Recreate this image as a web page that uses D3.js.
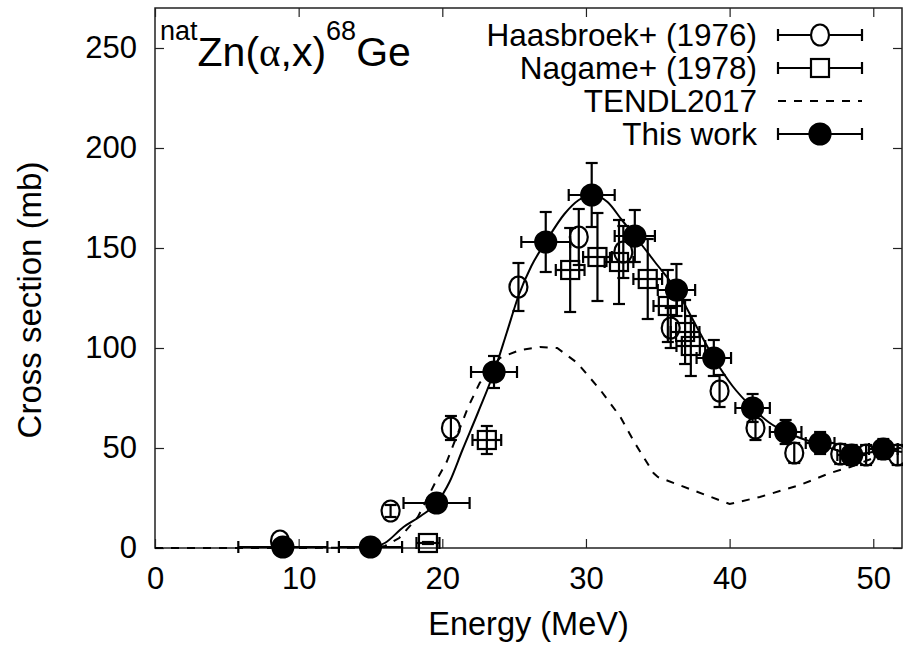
<!DOCTYPE html>
<html><head><meta charset="utf-8">
<script src="https://cdn.jsdelivr.net/npm/d3@7"></script>
<style>body{margin:0;background:#fff}svg{display:block}</style>
</head><body><svg id="c" width="903" height="647"></svg>
<script>
// ---- data ----
const xTicks = [0, 10, 20, 30, 40, 50];
const yTicks = [0, 50, 100, 150, 200, 250];
const legendLabels = ["Haasbroek+ (1976)", "Nagame+ (1978)", "TENDL2017", "This work"];

// Haasbroek+ (1976)
const haasE  = [8.7, 16.4, 20.6, 25.3, 29.5, 32.6, 35.9, 39.3, 41.8, 44.5, 47.7, 49.5, 51.7];
const haasS  = [3.5, 18.5, 60, 130.5, 155.5, 148, 110, 78.5, 60, 47.5, 47, 46.5, 46.5];
const haasDS = [0, 3, 6, 12, 14, 13, 10, 8, 6, 5, 5, 5, 5];

// Nagame+ (1978)
const nagE  = [19.0, 23.1, 28.9, 30.8, 32.3, 34.3, 35.7, 36.9, 37.3];
const nagS  = [2.5, 54, 139, 145.5, 143, 134.5, 121, 108, 101];
const nagDE = [0.8, 1.0, 1.0, 1.0, 1.0, 1.0, 1.0, 1.0, 1.0];
const nagDS = [0.5, 7, 21, 22, 21, 20, 18, 16, 15];

// TENDL2017
const tendlE = [0, 10, 15, 16, 17, 18.3, 19.6, 20.3, 21.8, 22.6, 24.0, 25.4, 26.8, 28.0, 29.4, 31.0, 32.4, 33.4, 34.7, 35.0, 40.0, 42.1, 44.9, 47.0, 48.4, 52];
const tendlS = [0, 0, 0.2, 1, 5, 15.5, 34, 43, 70.5, 82.5, 95, 99, 100.5, 100, 92.5, 79, 65.5, 52.5, 37.5, 35.5, 22, 25.5, 31.5, 37.5, 40.5, 50.5];

// This work
const workE  = [8.9, 15.0, 19.6, 23.6, 27.2, 30.4, 33.4, 36.3, 38.9, 41.6, 43.9, 46.3, 48.5, 50.7];
const workS  = [0.5, 0.5, 22.5, 88, 153, 176.5, 156, 129, 95, 70, 58, 52.5, 46.5, 49.5];
const workDE = [3.1, 2.2, 2.3, 1.6, 1.7, 1.6, 1.4, 1.3, 1.2, 1.2, 1.1, 1.0, 1.0, 1.0];
const workDS = [0, 0, 2, 8, 15, 16, 13, 13, 9, 7, 6, 5.5, 5, 5];

// This work fit curve
const fitE = [15, 16, 17.3, 18.5, 19.6, 20.5, 21.4, 22.5, 23.6, 24.5, 25.3, 26.2, 27.2, 28.5, 29.5, 30.4, 31.5, 32.5, 33.4, 34.8, 36.3, 37.6, 38.9, 40.2, 41.6, 42.7, 43.9, 45.1, 46.3, 47.4, 48.5, 49.6, 50.7, 52];
const fitS = [0, 2.5, 10.5, 16, 22.5, 33, 49, 68, 88, 108, 126, 141, 153, 167, 174, 176.5, 173, 164, 156, 143, 129, 112, 95, 81, 70, 63, 58, 54.5, 52, 49, 47, 47.5, 49, 48];

// ---- drawing ----
const svg = d3.select("#c");
const FONT = "'Liberation Sans', Arial, sans-serif";
const L = 155, R = 902, T = 8, B = 548;
const x = d3.scaleLinear().domain([0, 52]).range([L, R]);
const y = d3.scaleLinear().domain([0, 270]).range([B, T]);

function styleAxis(g) {
  g.select(".domain").remove();
  g.selectAll(".tick line").attr("stroke", "#222").attr("stroke-width", 1.2);
  g.selectAll("text").attr("font-family", FONT).attr("font-size", 31).attr("fill", "#000");
}
svg.append("g").attr("transform", `translate(0,${B})`)
  .call(d3.axisBottom(x).tickValues(xTicks).tickSize(-9).tickPadding(19).tickFormat(d3.format("d")))
  .call(styleAxis);
svg.append("g").attr("transform", `translate(0,${T})`)
  .call(d3.axisTop(x).tickValues(xTicks).tickSize(-9).tickFormat(""))
  .call(styleAxis);
svg.append("g").attr("transform", `translate(${L},0)`)
  .call(d3.axisLeft(y).tickValues(yTicks).tickSize(-9).tickPadding(18).tickFormat(d3.format("d")))
  .call(styleAxis);
svg.append("g").attr("transform", `translate(${R},0)`)
  .call(d3.axisRight(y).tickValues(yTicks).tickSize(-9).tickFormat(""))
  .call(styleAxis);

svg.append("rect").attr("x", L).attr("y", T).attr("width", R - L).attr("height", B - T)
  .attr("fill", "none").attr("stroke", "#222").attr("stroke-width", 1.5);

// axis titles
svg.append("text").attr("x", (L + R) / 2).attr("y", 635).attr("text-anchor", "middle")
  .attr("font-family", FONT).attr("font-size", 32.5).text("Energy (MeV)");
svg.append("text").attr("transform", `translate(41,300) rotate(-90)`).attr("text-anchor", "middle")
  .attr("font-family", FONT).attr("font-size", 33).text("Cross section (mb)");

// reaction title
const tt = svg.append("text").attr("x", 160).attr("y", 66).attr("font-family", FONT).attr("font-size", 41);
tt.append("tspan").attr("font-size", 27).attr("dy", -26).text("nat");
tt.append("tspan").attr("dy", 26).text("Zn(");
tt.append("tspan").attr("font-family", "'Liberation Serif', 'DejaVu Serif', serif").attr("font-size", 41).text("α");
tt.append("tspan").text(",x)");
tt.append("tspan").attr("font-size", 27).attr("dy", -26).text("68");
tt.append("tspan").attr("dy", 26).text("Ge");

// lines
const lineGen = d3.line().x(d => x(d[0])).y(d => y(d[1]));
svg.append("path").datum(d3.zip(tendlE, tendlS)).attr("d", lineGen)
  .attr("fill", "none").attr("stroke", "#000").attr("stroke-width", 2).attr("stroke-dasharray", "8,8");
svg.append("path").datum(d3.zip(fitE, fitS)).attr("d", lineGen.curve(d3.curveMonotoneX))
  .attr("fill", "none").attr("stroke", "#000").attr("stroke-width", 2);

const CAP = 6;
function errBars(g, E, S, DE, DS) {
  E.forEach((e, i) => {
    const cx = x(e), cy = y(S[i]);
    const de = DE ? DE[i] : 0, ds = DS ? DS[i] : 0;
    if (de > 0) {
      const x0 = x(e - de), x1 = x(e + de);
      g.append("line").attr("x1", x0).attr("x2", x1).attr("y1", cy).attr("y2", cy);
      g.append("line").attr("x1", x0).attr("x2", x0).attr("y1", cy - CAP).attr("y2", cy + CAP);
      g.append("line").attr("x1", x1).attr("x2", x1).attr("y1", cy - CAP).attr("y2", cy + CAP);
    }
    if (ds > 0) {
      const y0 = y(S[i] - ds), y1 = y(S[i] + ds);
      g.append("line").attr("x1", cx).attr("x2", cx).attr("y1", y0).attr("y2", y1);
      g.append("line").attr("x1", cx - CAP).attr("x2", cx + CAP).attr("y1", y0).attr("y2", y0);
      g.append("line").attr("x1", cx - CAP).attr("x2", cx + CAP).attr("y1", y1).attr("y2", y1);
    }
  });
}
const gH = svg.append("g").attr("stroke", "#000").attr("stroke-width", 2.2).attr("fill", "none");
errBars(gH, haasE, haasS, null, haasDS);
haasE.forEach((e, i) => gH.append("ellipse").attr("cx", x(e)).attr("cy", y(haasS[i])).attr("rx", 9).attr("ry", 10.5));

const gN = svg.append("g").attr("stroke", "#000").attr("stroke-width", 2.2).attr("fill", "none");
errBars(gN, nagE, nagS, nagDE, nagDS);
nagE.forEach((e, i) => gN.append("rect").attr("x", x(e) - 9).attr("y", y(nagS[i]) - 9).attr("width", 18).attr("height", 18));

const gW = svg.append("g").attr("stroke", "#000").attr("stroke-width", 2.2).attr("fill", "#000");
errBars(gW, workE, workS, workDE, workDS);
workE.forEach((e, i) => gW.append("circle").attr("cx", x(e)).attr("cy", y(workS[i])).attr("r", 10.5));

// legend
const legY = [35, 68, 101, 134];
const lx0 = 778, lx1 = 862, lsym = 820, ltext = 757;
const gl = svg.append("g");
legendLabels.forEach((lab, i) => {
  gl.append("text").attr("x", ltext).attr("y", legY[i]).attr("dy", "0.36em").attr("text-anchor", "end")
    .attr("font-family", FONT).attr("font-size", 31.5).text(lab);
  const g = gl.append("g").attr("stroke", "#000").attr("stroke-width", 2.2).attr("fill", "none");
  if (i === 2) {
    g.append("line").attr("x1", lx0).attr("x2", lx1).attr("y1", legY[i]).attr("y2", legY[i]).attr("stroke-dasharray", "8,8");
  } else {
    g.append("line").attr("x1", lx0).attr("x2", lx1).attr("y1", legY[i]).attr("y2", legY[i]);
    g.append("line").attr("x1", lx0).attr("x2", lx0).attr("y1", legY[i] - CAP).attr("y2", legY[i] + CAP);
    g.append("line").attr("x1", lx1).attr("x2", lx1).attr("y1", legY[i] - CAP).attr("y2", legY[i] + CAP);
    if (i === 0) g.append("ellipse").attr("cx", lsym).attr("cy", legY[i]).attr("rx", 9).attr("ry", 10.5).attr("fill", "#fff");
    if (i === 1) g.append("rect").attr("x", lsym - 9).attr("y", legY[i] - 9).attr("width", 18).attr("height", 18).attr("fill", "#fff");
    if (i === 3) g.append("circle").attr("cx", lsym).attr("cy", legY[i]).attr("r", 10.5).attr("fill", "#000");
  }
});
</script></body></html>
